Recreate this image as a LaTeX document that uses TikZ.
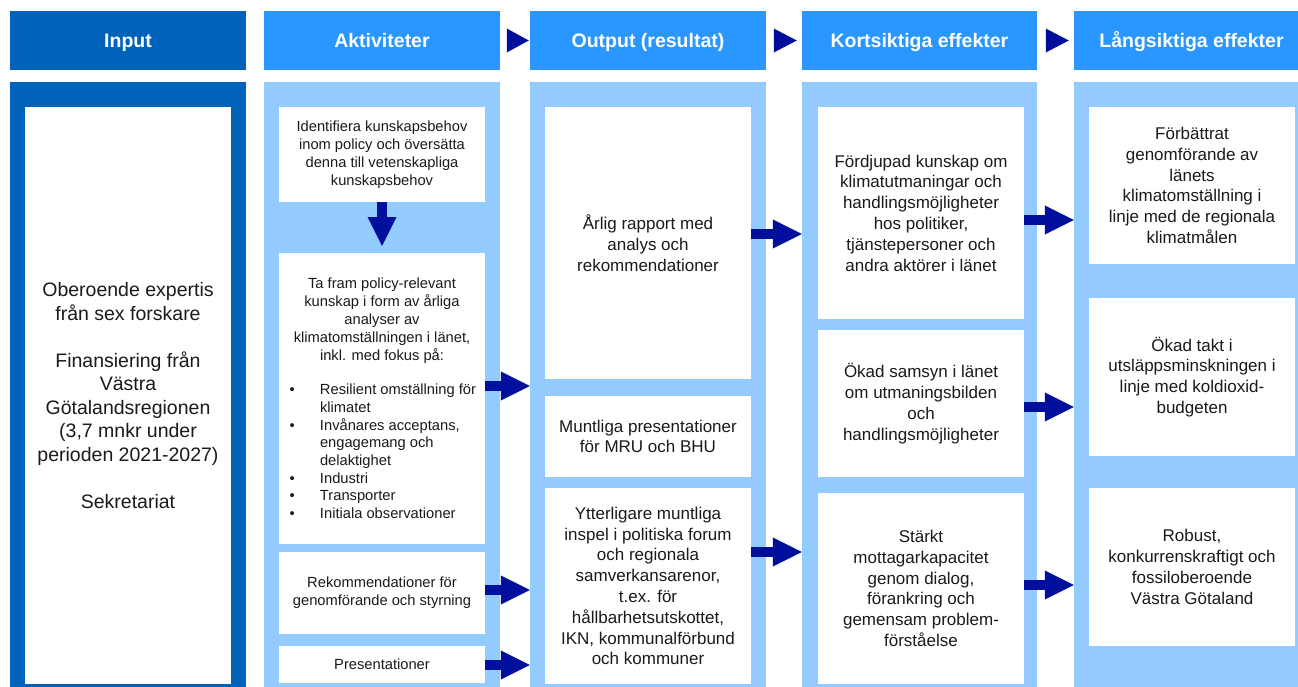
\documentclass[tikz,border=0pt]{standalone}
\usepackage{fontspec}
\setmainfont{Liberation Sans}
\usetikzlibrary{arrows.meta,calc}
\definecolor{dblue}{RGB}{0,98,185}
\definecolor{hblue}{RGB}{41,151,255}
\definecolor{lblue}{RGB}{148,203,254}
\definecolor{navy}{RGB}{0,16,156}
\definecolor{txt}{RGB}{26,26,26}
\begin{document}
\begin{tikzpicture}[x=1pt,y=-1pt,
  header/.style={fill=hblue,text=white,font=\fontsize{19.5}{23}\selectfont\bfseries,minimum height=59pt,inner sep=0pt,text height=14pt,text depth=0pt},
  colbody/.style={fill=lblue,inner sep=0pt,minimum height=606pt},
  wbox/.style={fill=white,inner sep=0pt,align=center,text=txt,minimum width=206pt},
  small/.style={font=\fontsize{14.7}{18}\selectfont},
  mid/.style={font=\fontsize{17}{20.8}\selectfont},
  big/.style={font=\fontsize{19.5}{23.5}\selectfont},
  arr/.style={draw=navy,line width=10pt,-{Triangle[length=29pt,width=29pt,line width=0pt]}},
  tri/.style={fill=navy}]
\useasboundingbox (0,0) rectangle (1298,686);

% headers
\node[header,fill=dblue,minimum width=236pt] (hIn) at (128,40.5) {Input};
\node[header,minimum width=236pt] (hAkt) at (382,40.5) {Aktiviteter};
\node[header,minimum width=236pt] (hOut) at (648,40.5) {Output (resultat)};
\node[header,minimum width=235pt] (hKort) at (919.5,40.5) {Kortsiktiga effekter};
\node[header,minimum width=235pt] (hLang) at (1191.5,40.5) {Långsiktiga effekter};

% header triangles
\fill[tri] ($(hOut.west)+(-23,-12)$) -- ($(hOut.west)+(-1,0)$) -- ($(hOut.west)+(-23,12)$) -- cycle;
\fill[tri] ($(hKort.west)+(-28,-12)$) -- ($(hKort.west)+(-5,0)$) -- ($(hKort.west)+(-28,12)$) -- cycle;
\fill[tri] ($(hLang.west)+(-28,-12)$) -- ($(hLang.west)+(-5,0)$) -- ($(hLang.west)+(-28,12)$) -- cycle;

% column bodies
\node[colbody,fill=dblue,minimum width=236pt] (cIn) at (128,385) {};
\node[colbody,minimum width=236pt] (cAkt) at (382,385) {};
\node[colbody,minimum width=236pt] (cOut) at (648,385) {};
\node[colbody,minimum width=235pt] (cKort) at (919.5,385) {};
\node[colbody,minimum width=235pt] (cLang) at (1191.5,385) {};

% input
\node[wbox,big,minimum height=577pt] (in1) at (128,395.5) {Oberoende expertis\\från sex forskare\\[23.5pt]Finansiering från\\Västra\\Götalandsregionen\\(3,7 mnkr under\\perioden 2021-2027)\\[23.5pt]Sekretariat};

% aktiviteter
\node[wbox,small,minimum height=95pt] (a1) at (382,154.5) {Identifiera kunskapsbehov\\inom policy och översätta\\denna till vetenskapliga\\kunskapsbehov};
\node[wbox,minimum height=291pt] (a2) at (382,398.5) {\begin{minipage}{206pt}\fontsize{14.7}{18}\selectfont
{\centering Ta fram policy-relevant\\kunskap i form av årliga\\analyser av\\klimatomställningen i länet,\\inkl. med fokus på:\par}
\vspace{16pt}
\fontsize{14.7}{17.7}\selectfont\raggedright
\hspace*{10.5pt}\makebox[30.5pt][l]{•}Resilient omställning för\\
\hspace*{41pt}klimatet\\
\hspace*{10.5pt}\makebox[30.5pt][l]{•}Invånares acceptans,\\
\hspace*{41pt}engagemang och\\
\hspace*{41pt}delaktighet\\
\hspace*{10.5pt}\makebox[30.5pt][l]{•}Industri\\
\hspace*{10.5pt}\makebox[30.5pt][l]{•}Transporter\\
\hspace*{10.5pt}\makebox[30.5pt][l]{•}Initiala observationer\par
\end{minipage}};
\node[wbox,small,minimum height=82pt] (a3) at (382,593) {Rekommendationer för\\genomförande och styrning};
\node[wbox,small,minimum height=37pt] (a4) at (382,664.5) {Presentationer};

% output
\node[wbox,mid,minimum height=272pt] (o1) at (648,243) {Årlig rapport med\\analys och\\rekommendationer};
\node[wbox,mid,minimum height=81pt] (o2) at (648,436.5) {Muntliga presentationer\\för MRU och BHU};
\node[wbox,mid,minimum height=196pt] (o3) at (648,586) {Ytterligare muntliga\\inspel i politiska forum\\och regionala\\samverkansarenor,\\t.ex. för\\hållbarhetsutskottet,\\IKN, kommunalförbund\\och kommuner};

% kortsiktiga
\node[wbox,mid,minimum height=212pt] (k1) at (921,213) {Fördjupad kunskap om\\klimatutmaningar och\\handlingsmöjligheter\\hos politiker,\\tjänstepersoner och\\andra aktörer i länet};
\node[wbox,mid,minimum height=147pt] (k2) at (921,403.5) {Ökad samsyn i länet\\om utmaningsbilden\\och\\handlingsmöjligheter};
\node[wbox,mid,minimum height=191pt] (k3) at (921,588.5) {Stärkt\\mottagarkapacitet\\genom dialog,\\förankring och\\gemensam problem-\\förståelse};

% långsiktiga
\node[wbox,mid,minimum height=157pt] (l1) at (1192,185.5) {Förbättrat\\genomförande av\\länets\\klimatomställning i\\linje med de regionala\\klimatmålen};
\node[wbox,mid,minimum height=158pt] (l2) at (1192,377) {Ökad takt i\\utsläppsminskningen i\\linje med koldioxid-\\budgeten};
\node[wbox,mid,minimum height=158pt] (l3) at (1192,567) {Robust,\\konkurrenskraftigt och\\fossiloberoende\\Västra Götaland};

% arrow levels
\coordinate (a1tip) at (382,246);
\coordinate (y386) at (0,386);
\coordinate (y590) at (0,590);
\coordinate (y665) at (0,665);
\coordinate (y234) at (0,234);
\coordinate (y552) at (0,552);
\coordinate (y220) at (0,220);
\coordinate (y407) at (0,407);
\coordinate (y585) at (0,585);

\draw[arr] (a1.south) -- (a1tip);
\draw[arr] (a2.east |- y386) -- (cOut.west |- y386);
\draw[arr] (a3.east |- y590) -- (cOut.west |- y590);
\draw[arr] (a4.east |- y665) -- (cOut.west |- y665);
\draw[arr] (o1.east |- y234) -- (cKort.west |- y234);
\draw[arr] (o3.east |- y552) -- (cKort.west |- y552);
\draw[arr] (k1.east |- y220) -- (cLang.west |- y220);
\draw[arr] (k2.east |- y407) -- (cLang.west |- y407);
\draw[arr] (k3.east |- y585) -- (cLang.west |- y585);
\end{tikzpicture}
\end{document}
